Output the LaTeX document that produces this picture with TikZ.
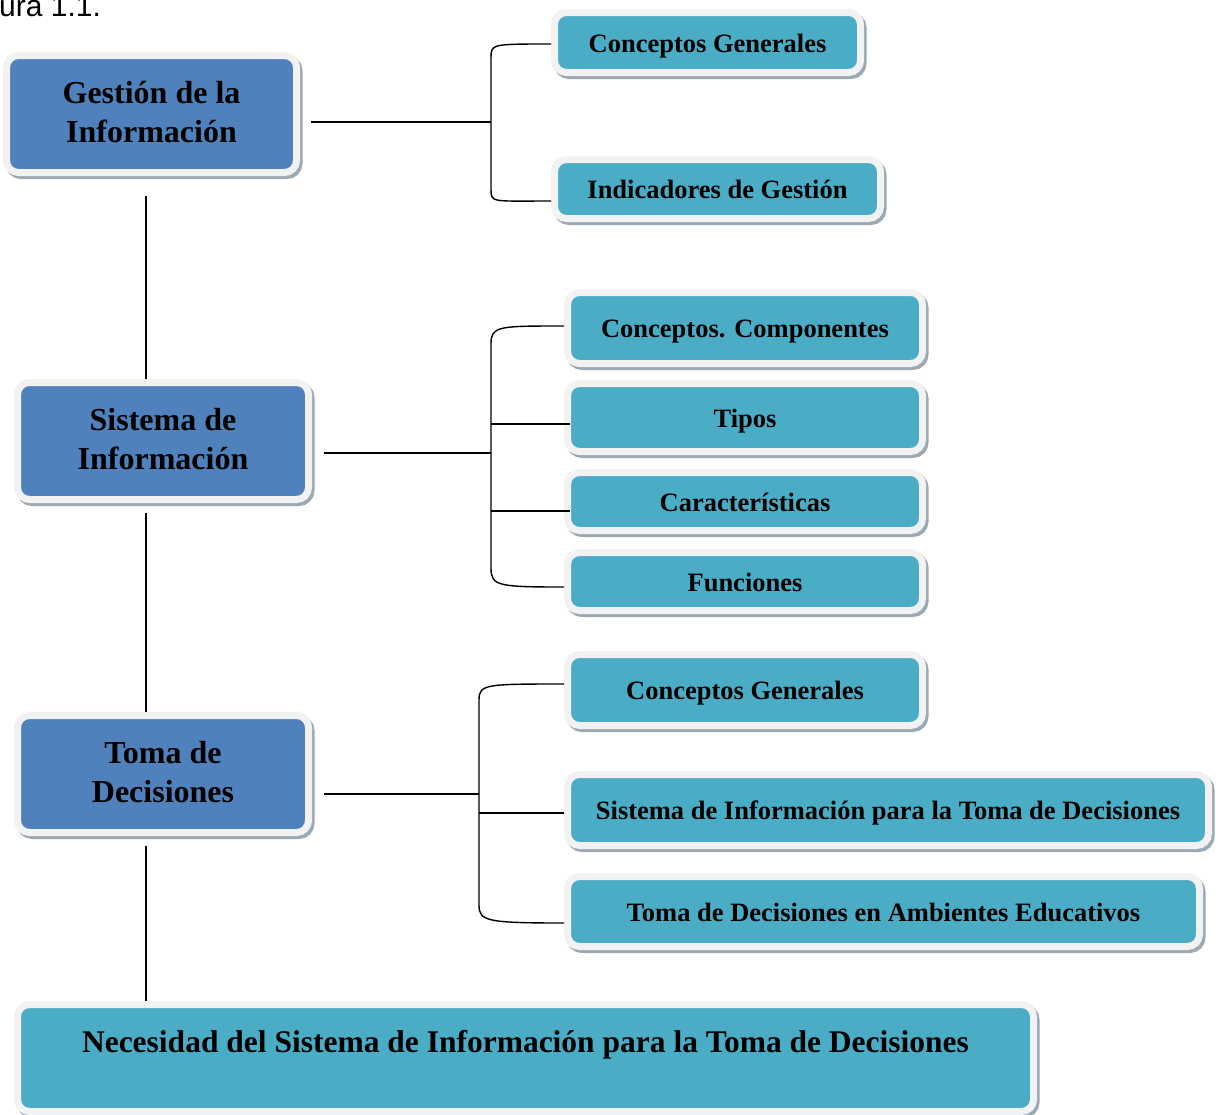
\documentclass[tikz,border=0pt]{standalone}
\usepackage{fontspec}
\setmainfont{Liberation Serif}
\newfontfamily\labelsans{Liberation Sans}
\usetikzlibrary{calc}

\definecolor{bluec}{HTML}{4F81BD}
\definecolor{tealc}{HTML}{4BACC6}
\definecolor{framec}{HTML}{F2F2F2}
\definecolor{shadowc}{HTML}{9BA9B4}

\tikzset{
  framed/.style={
    rounded corners=12pt, line width=7pt, draw=framec,
    preaction={draw=shadowc, line width=7pt,
      transform canvas={xshift=2.5pt,yshift=-3pt}},
    inner sep=0pt, align=center, text=black},
  mainbox/.style={framed, fill=bluec, text depth=4pt,
    font=\bfseries\fontsize{32}{38.5}\selectfont},
  subbox/.style={framed, fill=tealc, text height=24.5pt, text depth=5.5pt,
    font=\bfseries\fontsize{26.5}{32}\selectfont},
  wide/.style={framed, fill=tealc,
    font=\bfseries\fontsize{31.5}{38}\selectfont},
  link/.style={draw=black, line width=1.4pt},
}

\begin{document}
\begin{tikzpicture}[x=1pt,y=-1pt]
\useasboundingbox (0,0) rectangle (1218,1114);

% caption fragment at the top edge
\node[anchor=base west, inner sep=0pt,
  font=\labelsans\fontsize{30}{34}\selectfont] (cap) at (-1,16) {ura 1.1.};

% main topics
\node[mainbox, minimum width=290, minimum height=117] (GI) at (151.5,114)
  {Gestión de la\\Información};
\node[mainbox, minimum width=291, minimum height=117] (SI) at (163,441)
  {Sistema de\\Información};
\node[mainbox, minimum width=291, minimum height=117] (TD) at (163,774)
  {Toma de\\Decisiones};
\node[wide, minimum width=1016, minimum height=107,
  text height=24pt, text depth=36pt] (NEC) at (525.5,1058)
  {Necesidad del Sistema de Información para la Toma de Decisiones};

% subtopics
\node[subbox, minimum width=306, minimum height=60] (CG1) at (707.5,42.5)
  {Conceptos Generales};
\node[subbox, minimum width=326, minimum height=59] (IG) at (717.5,189)
  {Indicadores de Gestión};

\node[subbox, minimum width=355, minimum height=71] (CC) at (745,328)
  {Conceptos. Componentes};
\node[subbox, minimum width=355, minimum height=68] (TI) at (745,417.5)
  {Tipos};
\node[subbox, minimum width=355, minimum height=58] (CA) at (745,501.5)
  {Características};
\node[subbox, minimum width=355, minimum height=58] (FU) at (745,581.5)
  {Funciones};

\node[subbox, minimum width=355, minimum height=71] (CG2) at (745,690)
  {Conceptos Generales};
\node[subbox, minimum width=641, minimum height=71] (SITD) at (888,810)
  {Sistema de Información para la Toma de Decisiones};
\node[subbox, minimum width=632, minimum height=70] (TDAE) at (883.5,911.5)
  {Toma de Decisiones en Ambientes Educativos};

% spine between the main topics
\coordinate (sp) at (146,0);
\draw[link] ($(GI.south -| sp)+(0,19.5)$) -- (SI.north -| sp);
\draw[link] ($(SI.south -| sp)+(0,10)$) -- (TD.north -| sp);
\draw[link] ($(TD.south -| sp)+(0,10)$) -- (NEC.north -| sp);

% bracket 1
\coordinate (b1t) at (491,58);
\coordinate (b1m) at (491,122);
\coordinate (b1b) at (491,189);
\draw[link] ($(GI.east |- b1m)+(11,0)$) -- (b1m);
\draw[link] ([yshift=-1.5pt]CG1.west) .. controls +(-60,0) and +(0,-14) .. (b1t)
  -- (b1b) .. controls +(0,14) and +(-60,0) .. ([yshift=-12pt]IG.west);

% bracket 2
\coordinate (b2t) at (491,344);
\coordinate (b2m) at (491,453);
\coordinate (b2b) at (491,568);
\draw[link] ($(SI.east |- b2m)+(11.5,0)$) -- (b2m);
\draw[link] ([yshift=2pt]CC.west) .. controls +(-66,0) and +(0,-18) .. (b2t)
  -- (b2b) .. controls +(0,18) and +(-66,0) .. ([yshift=-5.5pt]FU.west);
\draw[link] (b2t |- TI.west) ++(0,6.5) -- ($(TI.west)+(5.5,6.5)$);
\draw[link] (b2t |- CA.west) ++(0,9.5) -- ($(CA.west)+(5.5,9.5)$);

% bracket 3
\coordinate (b3t) at (479,700);
\coordinate (b3m) at (479,794);
\coordinate (b3b) at (479,905);
\draw[link] ($(TD.east |- b3m)+(11.5,0)$) -- (b3m);
\draw[link] ([yshift=6pt]CG2.west) .. controls +(-78,0) and +(0,-16) .. (b3t)
  -- (b3b) .. controls +(0,16) and +(-78,0) .. ([yshift=-11.5pt]TDAE.west);
\draw[link] (b3t |- SITD.west) ++(0,3) -- ($(SITD.west)+(0,3)$);
\end{tikzpicture}
\end{document}
